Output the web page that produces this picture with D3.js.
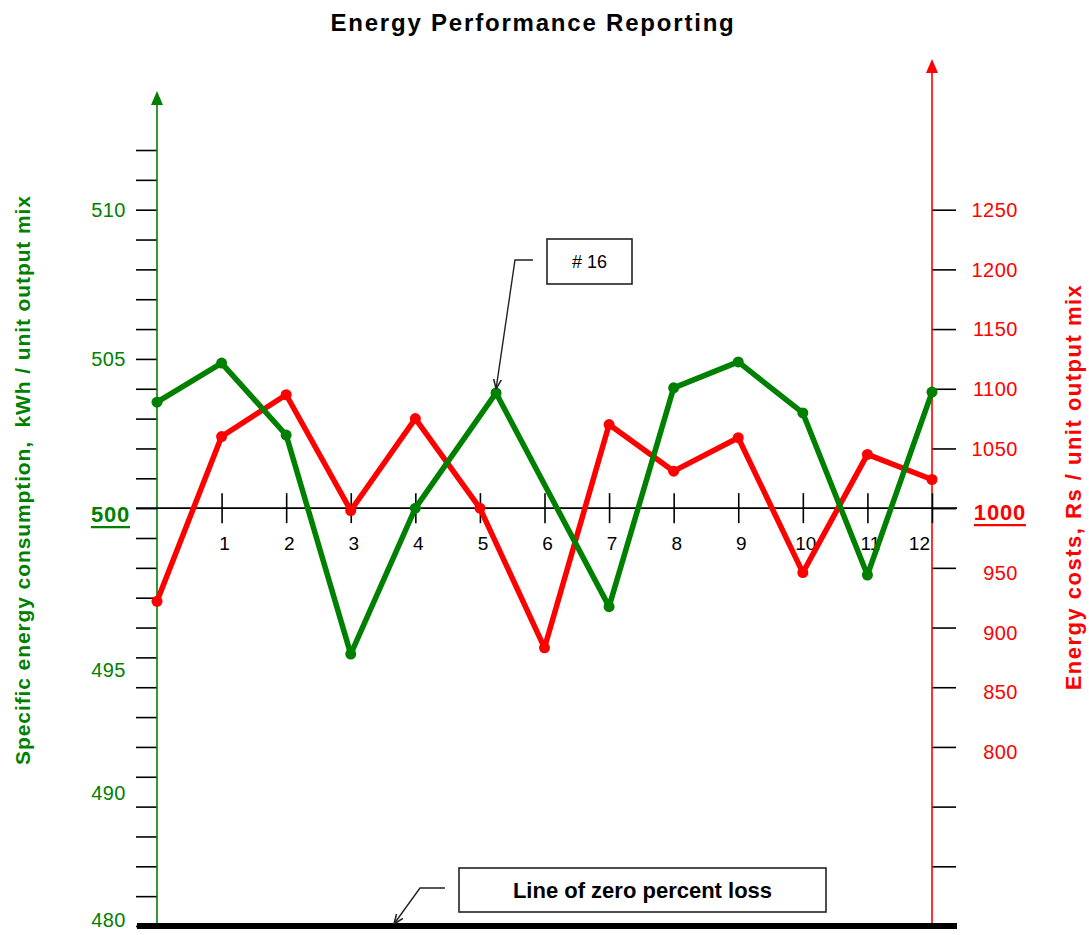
<!doctype html>
<html lang="en">
<head>
<meta charset="utf-8">
<title>Energy Performance Reporting</title>
<script src="https://cdn.jsdelivr.net/npm/d3@7"></script>
<style>
  html, body { margin: 0; background: #fff; }
  svg { display: block; font-family: "Liberation Sans", Arial, sans-serif; }
</style>
</head>
<body>
<div id="chart"></div>
<script>
// x axis periods
const periods = [1, 2, 3, 4, 5, 6, 7, 8, 9, 10, 11, 12];

// specific energy consumption, kWh / unit output mix (green, left axis)
const energyX = [0, 1, 2, 3, 4, 5.25, 7, 8, 9, 10, 11, 12];
const energyValues = [503.55, 504.86, 502.45, 495.11, 500, 503.86, 496.7, 504.03, 504.9, 503.19, 497.76, 503.89];

// energy costs, Rs / unit output mix (red, right axis)
const costX = [0, 1, 2, 3, 4, 5, 6, 7, 8, 9, 10, 11, 12];
const costValues = [922, 1060, 1095, 998, 1075, 1000, 883, 1070, 1031, 1059, 946, 1045, 1024];

// tick labels
const leftLabels = [510, 505, 495, 490, 480];
const rightLabels = [1250, 1200, 1150, 1100, 1050, 950, 900, 850, 800];

const width = 1089, height = 935;
const green = "#008000", red = "#ff0000";

const svg = d3.select("#chart").append("svg")
    .attr("width", width)
    .attr("height", height);

const x = d3.scaleLinear().domain([0, 12]).range([157, 932]);
const yL = d3.scaleLinear().domain([486, 512]).range([926, 150]);
const yR = d3.scaleLinear().domain([650, 1300]).range([926, 150]);
// the original puts the labels under 500 on their own spacing, not on the ticks
const yLabel = d3.scaleLinear()
    .domain([480, 490, 495, 500, 512])
    .range([920, 793, 670, yL(500), yL(512)]);

const defs = svg.append("defs");
defs.append("marker")
    .attr("id", "tip")
    .attr("viewBox", "0 0 10 10")
    .attr("refX", 10).attr("refY", 5)
    .attr("markerWidth", 7).attr("markerHeight", 7)
    .attr("orient", "auto")
  .append("path")
    .attr("d", "M0,1 L10,5 L0,9")
    .attr("fill", "none")
    .attr("stroke", "#222")
    .attr("stroke-width", 1.6);

// title
svg.append("text")
    .attr("x", 533).attr("y", 31)
    .attr("text-anchor", "middle")
    .attr("font-size", 24).attr("font-weight", "bold")
    .attr("letter-spacing", 1.8)
    .text("Energy Performance Reporting");

// left axis ticks
svg.append("g")
    .attr("transform", `translate(${x(0)},0)`)
    .call(d3.axisLeft(yL).tickValues(d3.range(486, 513)).tickSize(21).tickFormat(""))
    .call(g => g.select(".domain").remove())
    .call(g => g.selectAll(".tick line").attr("stroke", "#000").attr("stroke-width", 1.6));

// right axis ticks
svg.append("g")
    .attr("transform", `translate(${x(12)},0)`)
    .call(d3.axisRight(yR).tickValues(d3.range(700, 1251, 50)).tickSize(24).tickFormat(""))
    .call(g => g.select(".domain").remove())
    .call(g => g.selectAll(".tick line").attr("stroke", "#000").attr("stroke-width", 1.6));

// axis lines with arrows
svg.append("line")
    .attr("x1", x(0)).attr("x2", x(0))
    .attr("y1", yL(486)).attr("y2", 100)
    .attr("stroke", green).attr("stroke-width", 1.6);
svg.append("path")
    .attr("d", `M${x(0)},91 L${x(0) - 6},105 L${x(0) + 6},105 Z`)
    .attr("fill", green);

svg.append("line")
    .attr("x1", x(12)).attr("x2", x(12))
    .attr("y1", yL(486)).attr("y2", 68)
    .attr("stroke", red).attr("stroke-width", 1.6);
svg.append("path")
    .attr("d", `M${x(12)},59 L${x(12) - 6},73 L${x(12) + 6},73 Z`)
    .attr("fill", red);

// horizontal axis through 500 / 1000
svg.append("line")
    .attr("x1", 136).attr("x2", 957)
    .attr("y1", yL(500)).attr("y2", yL(500))
    .attr("stroke", "#000").attr("stroke-width", 1.6);

const xAxis = svg.append("g")
    .attr("transform", `translate(0,${yL(500)})`)
    .call(d3.axisBottom(x).tickValues(periods).tickSize(15).tickFormat(""))
    .call(g => g.select(".domain").remove());
xAxis.selectAll(".tick line")
    .attr("y1", -15)
    .attr("stroke", "#000").attr("stroke-width", 1.6);

svg.append("g")
  .selectAll("text")
  .data(periods)
  .join("text")
    .attr("x", d => d === 12 ? x(d) - 2 : x(d) + 3)
    .attr("y", yL(500) + 42)
    .attr("text-anchor", d => d === 12 ? "end" : "middle")
    .attr("font-size", 19)
    .attr("fill", "#000")
    .text(d => d);

// left tick labels
svg.append("g")
  .selectAll("text")
  .data(leftLabels)
  .join("text")
    .attr("x", 126)
    .attr("y", d => yLabel(d))
    .attr("dy", "0.36em")
    .attr("text-anchor", "end")
    .attr("font-size", 20)
    .attr("letter-spacing", 0.5)
    .attr("fill", green)
    .text(d => d);

// right tick labels
svg.append("g")
  .selectAll("text")
  .data(rightLabels)
  .join("text")
    .attr("x", 1018)
    .attr("y", d => yR(d) + (d < 1000 ? 5 : 0))
    .attr("dy", "0.36em")
    .attr("text-anchor", "end")
    .attr("font-size", 20)
    .attr("letter-spacing", 0.5)
    .attr("fill", red)
    .text(d => d);

// bold, underlined reference values
function refLabel(value, xEnd, y, color) {
  const t = svg.append("text")
      .attr("x", xEnd).attr("y", y)
      .attr("dy", "0.36em")
      .attr("text-anchor", "end")
      .attr("font-size", 22).attr("font-weight", "bold")
      .attr("letter-spacing", 0.8)
      .attr("fill", color)
      .text(value);
  const b = t.node().getBBox();
  svg.append("line")
      .attr("x1", b.x).attr("x2", b.x + b.width)
      .attr("y1", y + 13).attr("y2", y + 13)
      .attr("stroke", color).attr("stroke-width", 2.4);
}
refLabel(500, 130, yL(500) + 6, green);
refLabel(1000, 1026, yR(1000) + 4, red);

// axis titles
svg.append("text")
    .attr("transform", `translate(30,${480}) rotate(-90)`)
    .attr("text-anchor", "middle")
    .attr("font-size", 21).attr("font-weight", "bold")
    .attr("letter-spacing", 0.9)
    .attr("fill", green)
    .attr("xml:space", "preserve")
    .text("Specific energy consumption,  kWh / unit output mix");

svg.append("text")
    .attr("transform", `translate(1081,${487}) rotate(-90)`)
    .attr("text-anchor", "middle")
    .attr("font-size", 22).attr("font-weight", "bold")
    .attr("letter-spacing", 1.5)
    .attr("fill", red)
    .text("Energy costs, Rs / unit output mix");

// series
const costLine = d3.line().x((d, i) => x(costX[i])).y(d => yR(d));
const energyLine = d3.line().x((d, i) => x(energyX[i])).y(d => yL(d));

svg.append("path")
    .datum(costValues)
    .attr("d", costLine)
    .attr("fill", "none")
    .attr("stroke", red).attr("stroke-width", 5.5)
    .attr("stroke-linejoin", "round");
svg.append("g")
  .selectAll("circle")
  .data(costValues)
  .join("circle")
    .attr("cx", (d, i) => x(costX[i]))
    .attr("cy", d => yR(d))
    .attr("r", 5.5)
    .attr("fill", red);

svg.append("path")
    .datum(energyValues)
    .attr("d", energyLine)
    .attr("fill", "none")
    .attr("stroke", green).attr("stroke-width", 5.5)
    .attr("stroke-linejoin", "round");
svg.append("g")
  .selectAll("circle")
  .data(energyValues)
  .join("circle")
    .attr("cx", (d, i) => x(energyX[i]))
    .attr("cy", d => yL(d))
    .attr("r", 5.5)
    .attr("fill", green);

// line of zero percent loss
svg.append("line")
    .attr("x1", 137).attr("x2", 957)
    .attr("y1", yL(486)).attr("y2", yL(486))
    .attr("stroke", "#000").attr("stroke-width", 6);

// callouts
function callout(bx, by, bw, bh, label, size, weight, leader) {
  svg.append("rect")
      .attr("x", bx).attr("y", by)
      .attr("width", bw).attr("height", bh)
      .attr("fill", "#fff")
      .attr("stroke", "#222").attr("stroke-width", 1.6);
  svg.append("text")
      .attr("x", bx + bw / 2).attr("y", by + bh / 2)
      .attr("dy", "0.36em")
      .attr("text-anchor", "middle")
      .attr("font-size", size).attr("font-weight", weight)
      .attr("fill", "#000")
      .text(label);
  svg.append("path")
      .attr("d", leader)
      .attr("fill", "none")
      .attr("stroke", "#222").attr("stroke-width", 1.4)
      .attr("marker-end", "url(#tip)");
}

callout(547, 239, 85, 45, "# 16", 18, "normal",
    `M533,260 H515 L${x(energyX[5])},${yL(energyValues[5]) - 4}`);
callout(459, 868, 367, 44, "Line of zero percent loss", 22, "bold",
    `M445,888 H420 L394,${yL(486) - 2}`);
</script>
</body>
</html>
